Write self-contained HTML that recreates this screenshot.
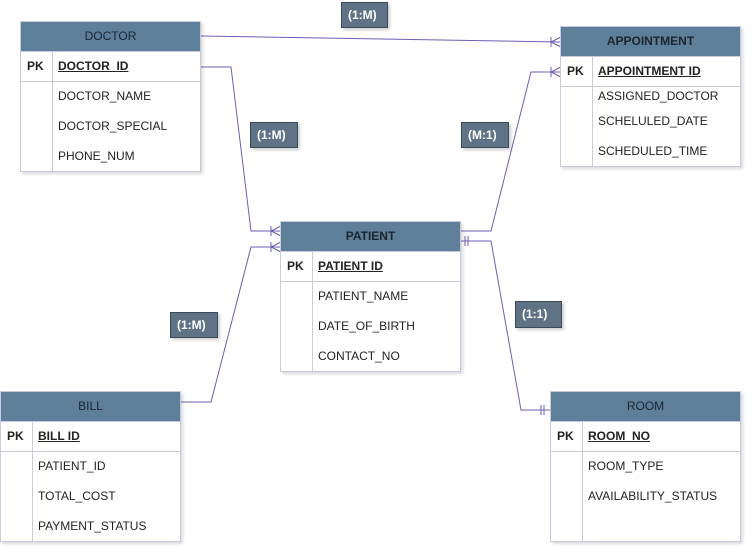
<!DOCTYPE html>
<html><head><meta charset="utf-8"><style>
body{margin:0;width:752px;height:553px;background:#fff;position:relative;overflow:hidden;font-family:"Liberation Sans",Arial,sans-serif;font-size:12px;color:#222}
.t{position:absolute;border:1px solid #c9c9e0;background:#fff;box-shadow:2px 2px 3px rgba(0,0,0,.15)}
.h{background:#5d7f99;height:29px;line-height:29px;text-align:center;color:#1c2530;border-bottom:1px solid #c9c9e0}
.h b{font-weight:bold}
.pk{position:relative;height:29px;line-height:29px;border-bottom:1px solid #c9c9e0}
.pk span{position:absolute;left:6px;font-weight:bold}
.pk u{position:absolute;left:37px;font-weight:bold}
.bd{position:absolute;left:31px;top:0;bottom:0;border-left:1px solid #c9c9e0}
.r{position:absolute;left:37px}
.lb{position:absolute;background:#5e7385;border:1px solid #3b4a58;color:#fff;font-weight:bold;font-size:12px;line-height:24px;padding-left:6px;box-shadow:2px 2px 3px rgba(0,0,0,.2)}
svg{position:absolute;left:0;top:0}
</style></head><body>
<svg width="752" height="553"><g stroke="#6a5fb0" stroke-width="1" fill="none">
<path d="M201 36 L561 42"/><path d="M561 37 L551 42 L561 47 M551 37 L551 47"/>
<path d="M201 67 L231 67 L251 231 L281 231"/><path d="M281 226 L271 231 L281 236 M271 226 L271 236"/>
<path d="M461 231 L491 231 L531 72 L561 72"/><path d="M561 67 L551 72 L561 77 M551 67 L551 77"/>
<path d="M461 241 L491 241 L521 410 L551 410"/><path d="M465 236 L465 246 M468 236 L468 246 M541 405 L541 415 M544 405 L544 415"/>
<path d="M181 402 L211 402 L251 247 L281 247"/><path d="M281 242 L271 247 L281 252 M271 242 L271 252"/>
</g></svg>

<div class="t" style="left:20px;top:21px;width:179px;height:149px"><div class="h">DOCTOR</div><div class="pk"><span>PK</span><u>DOCTOR_ID</u></div><div class="bd" style="top:30px"></div>
<div class="r" style="top:67px">DOCTOR_NAME</div><div class="r" style="top:97px">DOCTOR_SPECIAL</div><div class="r" style="top:127px">PHONE_NUM</div></div>

<div class="t" style="left:560px;top:26px;width:179px;height:139px"><div class="h"><b>APPOINTMENT</b></div><div class="pk"><span>PK</span><u>APPOINTMENT ID</u></div><div class="bd" style="top:30px"></div>
<div class="r" style="top:62px">ASSIGNED_DOCTOR</div><div class="r" style="top:87px">SCHELULED_DATE</div><div class="r" style="top:117px">SCHEDULED_TIME</div></div>

<div class="t" style="left:280px;top:221px;width:179px;height:149px"><div class="h"><b>PATIENT</b></div><div class="pk"><span>PK</span><u>PATIENT ID</u></div><div class="bd" style="top:30px"></div>
<div class="r" style="top:67px">PATIENT_NAME</div><div class="r" style="top:97px">DATE_OF_BIRTH</div><div class="r" style="top:127px">CONTACT_NO</div></div>

<div class="t" style="left:0px;top:391px;width:179px;height:149px"><div class="h">BILL</div><div class="pk"><span>PK</span><u>BILL ID</u></div><div class="bd" style="top:30px"></div>
<div class="r" style="top:67px">PATIENT_ID</div><div class="r" style="top:97px">TOTAL_COST</div><div class="r" style="top:127px">PAYMENT_STATUS</div></div>

<div class="t" style="left:550px;top:391px;width:189px;height:149px"><div class="h">ROOM</div><div class="pk"><span>PK</span><u>ROOM_NO</u></div><div class="bd" style="top:30px"></div>
<div class="r" style="top:67px">ROOM_TYPE</div><div class="r" style="top:97px">AVAILABILITY_STATUS</div></div>

<div class="lb" style="left:341px;top:2px;width:39px;height:24px">(1:M)</div>
<div class="lb" style="left:250px;top:122px;width:40px;height:24px">(1:M)</div>
<div class="lb" style="left:461px;top:122px;width:40px;height:24px">(M:1)</div>
<div class="lb" style="left:170px;top:312px;width:40px;height:24px">(1:M)</div>
<div class="lb" style="left:515px;top:301px;width:39px;height:25px">(1:1)</div>
</body></html>
